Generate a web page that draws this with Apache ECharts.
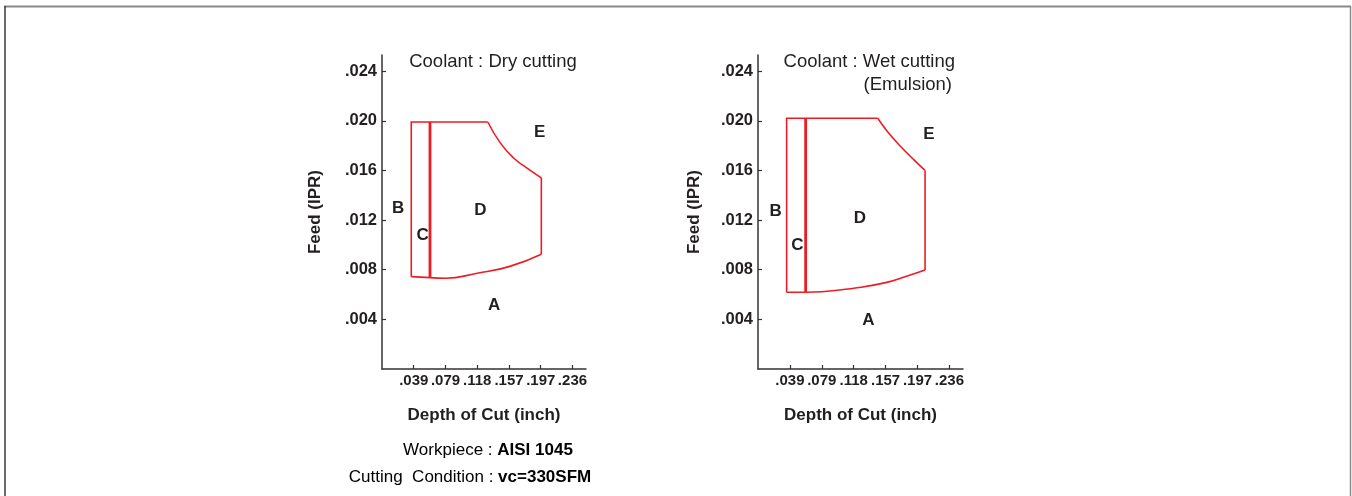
<!DOCTYPE html>
<html>
<head>
<meta charset="utf-8">
<script src="https://cdn.jsdelivr.net/npm/echarts@6/dist/echarts.min.js"></script>
<style>
  html, body { margin: 0; padding: 0; background: #fff; }
  #chart { width: 1352px; height: 496px; }
</style>
</head>
<body>
<div id="chart"></div>
<script>
// Axis ticks: depth of cut 1..6 mm expressed in inches, feed in inches per revolution
const depthTickValues = [0.03937, 0.07874, 0.11811, 0.15748, 0.19685, 0.23622];
const depthTickLabels = ['.039', '.079', '.118', '.157', '.197', '.236'];
const feedTickValues = [0.004, 0.008, 0.012, 0.016, 0.020, 0.024];
const feedTickLabels = ['.004', '.008', '.012', '.016', '.020', '.024'];

// Dry cutting chip-control map (depth, feed)
const dryFrame = [[0.0363, 0.00744], [0.0363, 0.0199], [0.1312, 0.0199]];
const dryTopCurve = [[0.1312, 0.0199], [0.1469, 0.0182], [0.1633, 0.0170], [0.1799, 0.01619], [0.1976, 0.0154]];
const dryRightEdge = [[0.1976, 0.0154], [0.1976, 0.00925]];
const dryBottomCurve = [[0.0595, 0.00736], [0.0787, 0.00731], [0.1181, 0.00772], [0.1575, 0.00825], [0.1976, 0.00925]];
const dryBottomLeft = [[0.0363, 0.00744], [0.0595, 0.00736]];
const dryDivider = [[0.0595, 0.00736], [0.0595, 0.0199]];

// Wet cutting (emulsion) chip-control map
const wetFrame = [[0.0353, 0.00619], [0.0353, 0.0202], [0.1478, 0.0202]];
const wetTopCurve = [[0.1478, 0.0202], [0.1597, 0.01914], [0.1761, 0.01793], [0.1925, 0.01685], [0.2062, 0.0160]];
const wetRightEdge = [[0.2062, 0.0160], [0.2062, 0.00798]];
const wetBottomCurve = [[0.0588, 0.00619], [0.0787, 0.00623], [0.1181, 0.00651], [0.1575, 0.00696], [0.1843, 0.0075], [0.2062, 0.00798]];
const wetBottomLeft = [[0.0353, 0.00619], [0.0588, 0.00619]];
const wetDivider = [[0.0588, 0.00619], [0.0588, 0.0202]];

// Region labels
const regionNames = ['A', 'B', 'C', 'D', 'E'];
const dryRegionPos = [[0.1390, 0.0051], [0.0201, 0.01298], [0.0504, 0.0108], [0.1219, 0.01277], [0.1954, 0.01911]];
const wetRegionPos = [[0.1362, 0.0039], [0.0217, 0.01274], [0.0485, 0.0100], [0.1258, 0.01215], [0.2110, 0.01893]];

const FONT = '"Liberation Sans", Arial, Helvetica, sans-serif';
const INK = '#231f20';
const RED = '#ec1c24';

function xAxisFor(gridIndex) {
  return {
    gridIndex, type: 'value', min: 0, max: 0.253,
    name: 'Depth of Cut (inch)', nameLocation: 'middle', nameGap: 38,
    nameTextStyle: { fontFamily: FONT, fontSize: 17, fontWeight: 'bold', color: INK },
    axisLine: { lineStyle: { color: '#333', width: 1.5 } },
    axisTick: { inside: true, length: 4, customValues: depthTickValues, lineStyle: { color: '#333', width: 1.2 } },
    axisLabel: {
      customValues: depthTickValues, margin: 4,
      fontFamily: FONT, fontSize: 15, fontWeight: 'bold', color: INK,
      formatter: v => depthTickLabels[depthTickValues.indexOf(v)] || ''
    },
    splitLine: { show: false }
  };
}

function yAxisFor(gridIndex, gap) {
  return {
    gridIndex, type: 'value', min: 0, max: 0.0253,
    name: 'Feed (IPR)', nameLocation: 'middle', nameGap: gap,
    nameTextStyle: { fontFamily: FONT, fontSize: 17, fontWeight: 'bold', color: INK },
    axisLine: { show: true, lineStyle: { color: '#333', width: 1.5 } },
    axisTick: { show: true, inside: true, length: 4, customValues: feedTickValues, lineStyle: { color: '#333', width: 1.2 } },
    axisLabel: {
      customValues: feedTickValues, margin: 5,
      fontFamily: FONT, fontSize: 16.5, fontWeight: 'bold', color: INK,
      formatter: v => feedTickLabels[feedTickValues.indexOf(v)] || ''
    },
    splitLine: { show: false }
  };
}

function path(points, idx, width, smooth) {
  return {
    type: 'line', xAxisIndex: idx, yAxisIndex: idx, data: points,
    symbol: 'none', smooth: smooth ? 0.5 : false, silent: true,
    lineStyle: { color: RED, width: width, join: 'miter', cap: 'butt' }
  };
}

function regionLabels(positions, idx) {
  return {
    type: 'scatter', xAxisIndex: idx, yAxisIndex: idx, symbolSize: 0, silent: true,
    itemStyle: { opacity: 1, color: INK },
    data: positions.map((p, i) => ({ value: p, name: regionNames[i] })),
    label: {
      show: true, position: 'inside', formatter: '{b}', opacity: 1,
      textBorderWidth: 0, textShadowBlur: 0,
      fontFamily: FONT, fontSize: 17, fontWeight: 'bold', color: INK
    }
  };
}

const chart = echarts.init(document.getElementById('chart'), null, { renderer: 'canvas' });
chart.setOption({
  animation: false,
  backgroundColor: '#fff',
  grid: [
    { left: 382, top: 55, width: 204, height: 314 },
    { left: 758, top: 55, width: 205, height: 314 }
  ],
  xAxis: [xAxisFor(0), xAxisFor(1)],
  yAxis: [yAxisFor(0, 58), yAxisFor(1, 55)],
  series: [
    path(dryFrame, 0, 1.6), path(dryTopCurve, 0, 1.6, true), path(dryRightEdge, 0, 1.6),
    path(dryBottomCurve, 0, 1.6, true), path(dryBottomLeft, 0, 1.6), path(dryDivider, 0, 2.8),
    regionLabels(dryRegionPos, 0),
    path(wetFrame, 1, 1.6), path(wetTopCurve, 1, 1.6, true), path(wetRightEdge, 1, 1.6),
    path(wetBottomCurve, 1, 1.6, true), path(wetBottomLeft, 1, 1.6), path(wetDivider, 1, 2.8),
    regionLabels(wetRegionPos, 1)
  ],
  graphic: [
    // page frame
    { type: 'line', shape: { x1: 4, y1: 6.5, x2: 1351, y2: 6.5 }, style: { stroke: '#8a8a8a', lineWidth: 2 } },
    { type: 'line', shape: { x1: 5, y1: 6, x2: 5, y2: 496 }, style: { stroke: '#3a3a3a', lineWidth: 1.5 } },
    { type: 'line', shape: { x1: 1350.5, y1: 6, x2: 1350.5, y2: 496 }, style: { stroke: '#8a8a8a', lineWidth: 1.5 } },
    // panel headings
    { type: 'text', x: 493, y: 62, style: { text: 'Coolant : Dry cutting', font: '18.5px ' + FONT, fill: INK, align: 'center', verticalAlign: 'middle' } },
    { type: 'text', x: 955, y: 62, style: { text: 'Coolant : Wet cutting', font: '18.5px ' + FONT, fill: INK, align: 'right', verticalAlign: 'middle' } },
    { type: 'text', x: 952, y: 85, style: { text: '(Emulsion)', font: '18.5px ' + FONT, fill: INK, align: 'right', verticalAlign: 'middle' } },
    // test conditions
    { type: 'text', x: 488, y: 450, style: {
        text: '{n|Workpiece : }{b|AISI 1045}', align: 'center', verticalAlign: 'middle',
        rich: { n: { fontFamily: FONT, fontSize: 17, color: INK }, b: { fontFamily: FONT, fontSize: 17, fontWeight: 'bold', color: INK } } } },
    { type: 'text', x: 470, y: 477, style: {
        text: '{n|Cutting  Condition : }{b|vc=330SFM}', align: 'center', verticalAlign: 'middle',
        rich: { n: { fontFamily: FONT, fontSize: 17, color: INK }, b: { fontFamily: FONT, fontSize: 17, fontWeight: 'bold', color: INK } } } }
  ]
});
</script>
</body>
</html>
